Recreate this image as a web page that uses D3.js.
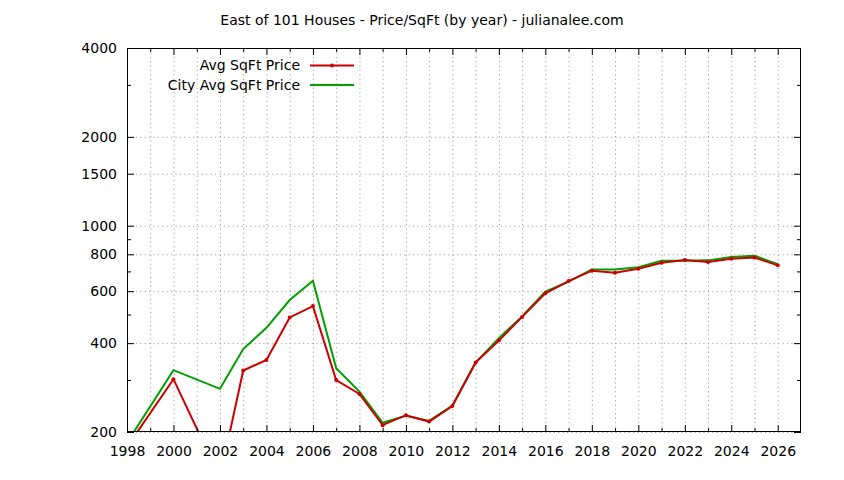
<!DOCTYPE html>
<html>
<head>
<meta charset="utf-8">
<script src="https://cdn.jsdelivr.net/npm/d3@7/dist/d3.min.js"></script>
<style>
  html, body { margin: 0; padding: 0; background: #fff; }
  svg { display: block; }
  text { font-family: "DejaVu Sans", sans-serif; font-size: 14px; fill: #000; }
</style>
</head>
<body>
<svg id="chart" width="844" height="480"></svg>
<script>
const title = "East of 101 Houses - Price/SqFt (by year) - julianalee.com";
const years = [1998,1999,2000,2001,2002,2003,2004,2005,2006,2007,2008,2009,2010,2011,2012,2013,2014,2015,2016,2017,2018,2019,2020,2021,2022,2023,2024,2025,2026];
// null = no data for that year (line joins the neighbouring points)
const avgSqFtPrice = [178,null,302,null,140,323,351,489,534,300,269,211,228,217,245,344,408,491,590,649,704,693,715,749,765,753,773,780,734];
const cityAvgSqFtPrice = [184,null,324,null,280,382,451,560,651,329,274,215,227,218,246,344,416,493,598,646,711,711,723,761,761,763,783,791,741];
const seriesNames = ["Avg SqFt Price", "City Avg SqFt Price"];
const xMajorTicks = [1998,2000,2002,2004,2006,2008,2010,2012,2014,2016,2018,2020,2022,2024,2026];
const xMinorTicks = [1999,2001,2003,2005,2007,2009,2011,2013,2015,2017,2019,2021,2023,2025];
const yMajorTicks = [200,400,600,800,1000,1500,2000,4000];
const yMinorTicks = [300,500,700,900,3000];
const xDomain = [1998, 2027];
const yDomain = [200, 4000];

const svg = d3.select("#chart");
const L = 127, R = 801, T = 48, B = 432;
const x = d3.scaleLinear().domain(xDomain).range([L, R]);
const y = d3.scaleLog().domain(yDomain).range([B, T]);

const colors = ["#cc0000", "#00a000"];

// title
svg.append("text").attr("x", 422).attr("y", 25).attr("text-anchor", "middle").text(title);

// grid
const gridStyle = g => {
  g.select(".domain").remove();
  g.selectAll("text").remove();
  g.selectAll("line").attr("stroke", "#a0a0a0").attr("stroke-width", 1).attr("stroke-dasharray", "1.2,3.2");
};
svg.append("g").attr("transform", `translate(0,${B})`)
  .call(d3.axisBottom(x).tickValues(years).tickSize(-(B - T)))
  .call(gridStyle);
svg.append("g").attr("transform", `translate(${L},0)`)
  .call(d3.axisLeft(y).tickValues(yMajorTicks).tickSize(-(R - L)))
  .call(gridStyle);

// clip
svg.append("clipPath").attr("id", "clip").append("rect")
  .attr("x", L).attr("y", T).attr("width", R - L).attr("height", B - T);

const plot = svg.append("g").attr("clip-path", "url(#clip)");
const toPoints = vals => years.map((yr, i) => ({ yr, v: vals[i] })).filter(d => d.v != null);
const line = d3.line().x(d => x(d.yr)).y(d => y(d.v));

plot.append("path").datum(toPoints(cityAvgSqFtPrice))
  .attr("fill", "none").attr("stroke", colors[1]).attr("stroke-width", 2).attr("d", line);
plot.append("path").datum(toPoints(avgSqFtPrice))
  .attr("fill", "none").attr("stroke", colors[0]).attr("stroke-width", 2).attr("d", line);
plot.selectAll("circle.pt").data(toPoints(avgSqFtPrice)).enter().append("circle")
  .attr("class", "pt").attr("cx", d => x(d.yr)).attr("cy", d => y(d.v))
  .attr("r", 2).attr("fill", colors[0]);

// axes (ticks inward)
const tickStyle = g => {
  g.select(".domain").remove();
  g.selectAll("line").attr("stroke", "#000").attr("stroke-width", 1);
};
const noText = g => g.selectAll("text").remove();

svg.append("g").attr("transform", `translate(0,${B})`)
  .call(d3.axisBottom(x).tickValues(xMajorTicks).tickSize(-7).tickPadding(14.5).tickFormat(d3.format("d")))
  .call(tickStyle)
  .call(g => g.selectAll("text").style("font-family", "DejaVu Sans").style("font-size", "14px").attr("fill", "#000"));
svg.append("g").attr("transform", `translate(0,${B})`)
  .call(d3.axisBottom(x).tickValues(xMinorTicks).tickSize(-4)).call(tickStyle).call(noText);
svg.append("g").attr("transform", `translate(0,${T})`)
  .call(d3.axisTop(x).tickValues(xMajorTicks).tickSize(-7)).call(tickStyle).call(noText);
svg.append("g").attr("transform", `translate(0,${T})`)
  .call(d3.axisTop(x).tickValues(xMinorTicks).tickSize(-4)).call(tickStyle).call(noText);

svg.append("g").attr("transform", `translate(${L},0)`)
  .call(d3.axisLeft(y).tickValues(yMajorTicks).tickSize(-7).tickPadding(10).tickFormat(d3.format("d")))
  .call(tickStyle)
  .call(g => g.selectAll("text").style("font-family", "DejaVu Sans").style("font-size", "14px").attr("fill", "#000"));
svg.append("g").attr("transform", `translate(${L},0)`)
  .call(d3.axisLeft(y).tickValues(yMinorTicks).tickSize(-4)).call(tickStyle).call(noText);
svg.append("g").attr("transform", `translate(${R},0)`)
  .call(d3.axisRight(y).tickValues(yMajorTicks).tickSize(-7)).call(tickStyle).call(noText);
svg.append("g").attr("transform", `translate(${R},0)`)
  .call(d3.axisRight(y).tickValues(yMinorTicks).tickSize(-4)).call(tickStyle).call(noText);

// border
svg.append("rect").attr("x", L + 0.5).attr("y", T + 0.5).attr("width", R - L - 1).attr("height", B - T - 1)
  .attr("fill", "none").attr("stroke", "#000").attr("stroke-width", 1);

// legend
const legendY = [65.5, 85];
const legend = svg.append("g");
seriesNames.forEach((name, i) => {
  legend.append("text").attr("x", 300).attr("y", legendY[i]).attr("dy", "0.35em")
    .attr("text-anchor", "end").text(name);
  legend.append("line").attr("x1", 310).attr("x2", 354).attr("y1", legendY[i]).attr("y2", legendY[i])
    .attr("stroke", colors[i]).attr("stroke-width", 2);
  if (i === 0) {
    legend.append("circle").attr("cx", 332).attr("cy", legendY[i]).attr("r", 2).attr("fill", colors[i]);
  }
});
</script>
</body>
</html>
